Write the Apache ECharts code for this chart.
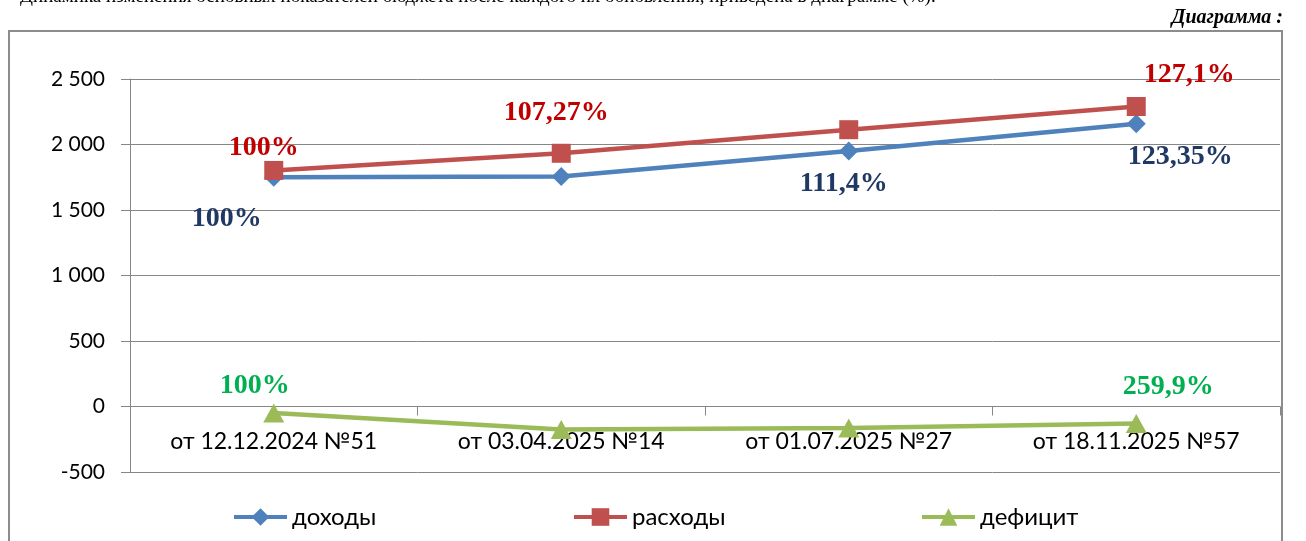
<!DOCTYPE html>
<html><head><meta charset="utf-8">
<script src="https://cdn.jsdelivr.net/npm/echarts@6/dist/echarts.min.js"></script>
<style>html,body{margin:0;padding:0;background:#fff}#c{width:1306px;height:541px}</style>
</head><body><div id="c"></div>
<script>
const categories = ['от 12.12.2024 №51', 'от 03.04.2025 №14', 'от 01.07.2025 №27', 'от 18.11.2025 №57'];
const seriesNames = ['доходы', 'расходы', 'дефицит'];
const incomeValues = [1750, 1755, 1950, 2159];
const expenseValues = [1802, 1933, 2113, 2290];
const deficitValues = [-50, -175, -165, -130];
const incomeLabels = ['100%', '', '111,4%', '123,35%'];
const expenseLabels = ['100%', '107,27%', '', '127,1%'];
const deficitLabels = ['100%', '', '', '259,9%'];
const yMin = -500, yMax = 2500, yStep = 500;
const titleText = 'Динамика изменения основных показателей бюджета после каждого их обновления, приведена в диаграмме (%).';
const captionText = 'Диаграмма :';

// styling (positions of labels relative to points)
const incomeOffsets = [[-47, 42], [0, 0], [-5, 33], [44, 33]];
const expenseOffsets = [[-10, -23], [-5, -41], [0, 0], [53, -32]];
const deficitOffsets = [[-19, -27], [0, 0], [0, 0], [32, -37]];

function buildData(values, labels, offsets, color) {
  return values.map((v, i) => ({
    value: v,
    label: {
      show: !!labels[i],
      formatter: labels[i],
      position: 'inside',
      offset: offsets[i],
      color: color,
      fontFamily: '"Liberation Serif", "Times New Roman", serif',
      fontWeight: 'bold',
      fontSize: 28
    }
  }));
}

const axisFont = 'Lato, "Open Sans", sans-serif';
const chart = echarts.init(document.getElementById('c'), null, {renderer: 'canvas'});
const colors = ['#4F81BD', '#C0504D', '#9BBB59'];
const symbols = ['diamond', 'rect', 'triangle'];
const sizes = [[19, 19], [19, 19], [21, 19]];
const legendLefts = [227, 567, 915];

const option = {
  animation: false,
  backgroundColor: '#fff',
  color: colors,
  grid: {left: 130, right: 26, top: 79, bottom: 69, containLabel: false},
  graphic: [
    {type: 'rect', shape: {x: 9, y: 31, width: 1273, height: 600}, style: {fill: 'none', stroke: '#8c8c8c', lineWidth: 2}, z: -1},
    {type: 'text', left: 20, top: -12, style: {text: titleText, font: '19px "Liberation Serif", serif', fill: '#000'}},
    {type: 'text', right: 23, top: 8, style: {text: captionText, font: 'italic bold 20px "Liberation Serif", serif', fill: '#000'}}
  ],
  legend: seriesNames.map((n, i) => ({
    data: [n],
    left: legendLefts[i],
    top: 500,
    itemWidth: 53,
    itemHeight: 22,
    itemGap: 4,
    lineStyle: {width: 4},
    textStyle: {fontFamily: axisFont, fontSize: 24, color: '#000'}
  })),
  xAxis: {
    type: 'category',
    data: categories,
    boundaryGap: true,
    axisLine: {onZero: true, lineStyle: {color: '#868686', width: 1}},
    axisTick: {show: true, length: 9, lineStyle: {color: '#868686'}},
    axisLabel: {fontFamily: axisFont, fontSize: 23, color: '#000', margin: -42}
  },
  yAxis: {
    type: 'value',
    min: yMin, max: yMax, interval: yStep,
    axisLine: {show: true, lineStyle: {color: '#868686', width: 1}},
    axisTick: {show: true, length: 9, lineStyle: {color: '#868686'}},
    splitLine: {show: true, lineStyle: {color: '#868686', width: 1}},
    axisLabel: {
      fontFamily: axisFont, fontSize: 21, color: '#000', margin: 25,
      formatter: v => {
        const s = String(Math.abs(v)).replace(/\B(?=(\d{3})+(?!\d))/g, ' ');
        return (v < 0 ? '-' : '') + s;
      }
    }
  },
  series: [
    {name: seriesNames[0], type: 'line', data: buildData(incomeValues, incomeLabels, incomeOffsets, '#1F3864'),
     symbol: symbols[0], symbolSize: sizes[0], lineStyle: {width: 4.5, color: colors[0]}, itemStyle: {color: colors[0]}},
    {name: seriesNames[1], type: 'line', data: buildData(expenseValues, expenseLabels, expenseOffsets, '#C00000'),
     symbol: symbols[1], symbolSize: sizes[1], lineStyle: {width: 4.5, color: colors[1]}, itemStyle: {color: colors[1]}},
    {name: seriesNames[2], type: 'line', data: buildData(deficitValues, deficitLabels, deficitOffsets, '#00B050'),
     symbol: symbols[2], symbolSize: sizes[2], lineStyle: {width: 4.5, color: colors[2]}, itemStyle: {color: colors[2]}}
  ]
};
chart.setOption(option);
</script></body></html>
